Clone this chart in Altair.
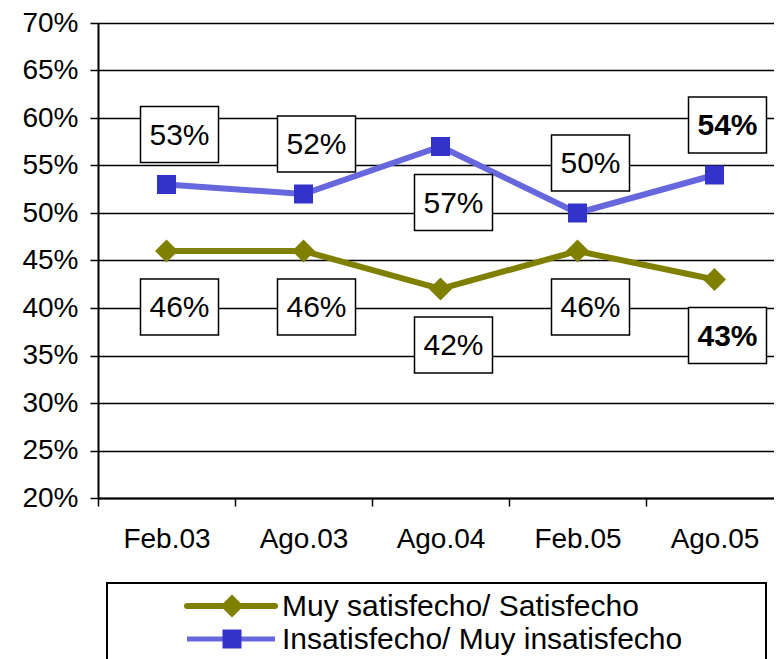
import altair as alt
import pandas as pd

# ---- data ----
dates = ["Feb.03", "Ago.03", "Ago.04", "Feb.05", "Ago.05"]
series_names = ["Muy satisfecho/ Satisfecho", "Insatisfecho/ Muy insatisfecho"]
satisfied = [46, 46, 42, 46, 43]
unsatisfied = [53, 52, 57, 50, 54]
satisfied_label_side = ["below", "below", "below", "below", "below"]
unsatisfied_label_side = ["above", "above", "below", "above", "above"]
y_tick_values = [20, 25, 30, 35, 40, 45, 50, 55, 60, 65, 70]

# ---- styles ----
FONT = "Liberation Sans"
line_colors = ["#808000", "#6666DD"]
marker_colors = ["#808000", "#3333CC"]
marker_shapes = ["diamond", "square"]
marker_sizes = [529, 361]

rows = []
for name, vals, sides in [
    (series_names[0], satisfied, satisfied_label_side),
    (series_names[1], unsatisfied, unsatisfied_label_side),
]:
    for d, v, s in zip(dates, vals, sides):
        rows.append({"date": d, "series": name, "value": v / 100.0,
                     "side": s, "bold": d == dates[-1]})
df = pd.DataFrame(rows)

x_enc = alt.X(
    "date:N", sort=dates,
    scale=alt.Scale(type="band", paddingInner=0, paddingOuter=0, range=[0, 685]),
    axis=alt.Axis(title=None, labelAngle=0, tickBand="extent", tickSize=8,
                  tickWidth=1.5, domainWidth=2, labelPadding=19, grid=False),
)
y_enc = alt.Y(
    "value:Q",
    scale=alt.Scale(domain=[0.2, 0.7], nice=False, zero=False),
    axis=alt.Axis(title=None, values=[v / 100.0 for v in y_tick_values], format=".0%",
                  grid=True, gridColor="black", gridWidth=1.5, tickSize=8,
                  tickWidth=1.5, domainWidth=2, labelPadding=12),
)

base = alt.Chart(df)

lines = base.mark_line(strokeWidth=6).encode(
    x=x_enc, y=y_enc,
    color=alt.Color("series:N", scale=alt.Scale(domain=series_names, range=line_colors), legend=None),
)

points = base.mark_point(filled=True, opacity=1).encode(
    x=x_enc, y=y_enc,
    color=alt.Color("series:N", scale=alt.Scale(domain=series_names, range=marker_colors), legend=None),
    shape=alt.Shape("series:N", scale=alt.Scale(domain=series_names, range=marker_shapes), legend=None),
    size=alt.Size("series:N", scale=alt.Scale(domain=series_names, range=marker_sizes), legend=None),
)

BOX_PATH = "M-1,-0.718H1V0.718H-1Z"
offsets = {"above": -50, "below": 56}

box_layers = []
text_layers = []
for side, off in offsets.items():
    box_layers.append(
        base.transform_filter(f"datum.side == '{side}'").mark_point(
            shape=BOX_PATH, size=6084, filled=True, fill="white", stroke="black",
            strokeWidth=1.5, opacity=1, xOffset=13, yOffset=off,
        ).encode(x=x_enc, y=y_enc)
    )
    for bold in [False, True]:
        text_layers.append(
            base.transform_filter(
                f"datum.side == '{side}' && datum.bold == {'true' if bold else 'false'}"
            ).mark_text(
                font=FONT, fontSize=30, color="black", align="center", baseline="middle",
                fontWeight="bold" if bold else "normal", xOffset=13, yOffset=off + 1,
            ).encode(x=x_enc, y=y_enc, text=alt.Text("value:Q", format=".0%"))
        )

# ---- manual legend below the plot ----
legend_box = alt.Chart(pd.DataFrame({"series": [series_names[0]]})).mark_rect(
    fill="white", stroke="black", strokeWidth=2
).encode(x=alt.value(9), x2=alt.value(668), y=alt.value(560), y2=alt.value(720))

legend_layers = [legend_box]
legend_rows_y = [583, 616]
caps = ["round", "butt"]
for i, name in enumerate(series_names):
    ldf = pd.DataFrame({"series": [name]})
    ly = legend_rows_y[i]
    legend_layers.append(
        alt.Chart(ldf).mark_rule(color=line_colors[i], strokeWidth=6 if i == 0 else 5,
                                 strokeCap=caps[i]).encode(
            x=alt.value(89), x2=alt.value(177), y=alt.value(ly))
    )
    legend_layers.append(
        alt.Chart(ldf).mark_point(shape=marker_shapes[i], size=marker_sizes[i], filled=True,
                                  color=marker_colors[i], opacity=1).encode(
            x=alt.value(134), y=alt.value(ly))
    )
    legend_layers.append(
        alt.Chart(ldf).mark_text(font=FONT, fontSize=30, color="black", align="left",
                                 baseline="middle").encode(
            x=alt.value(184), y=alt.value(ly + 1), text="series:N")
    )

chart = alt.layer(
    lines, *box_layers, points, *text_layers, *legend_layers
).resolve_scale(
    color="independent", shape="independent", size="independent"
).properties(
    width=676, height=475,
    autosize=alt.AutoSizeParams(type="none"),
    padding={"left": 90, "top": 15, "right": 0, "bottom": 161},
).configure_view(stroke=None).configure_axis(
    labelFont=FONT, labelFontSize=28, labelColor="black",
    domainColor="black", tickColor="black",
)

chart.save("out.html", embed_options={"renderer": "svg", "actions": False})
